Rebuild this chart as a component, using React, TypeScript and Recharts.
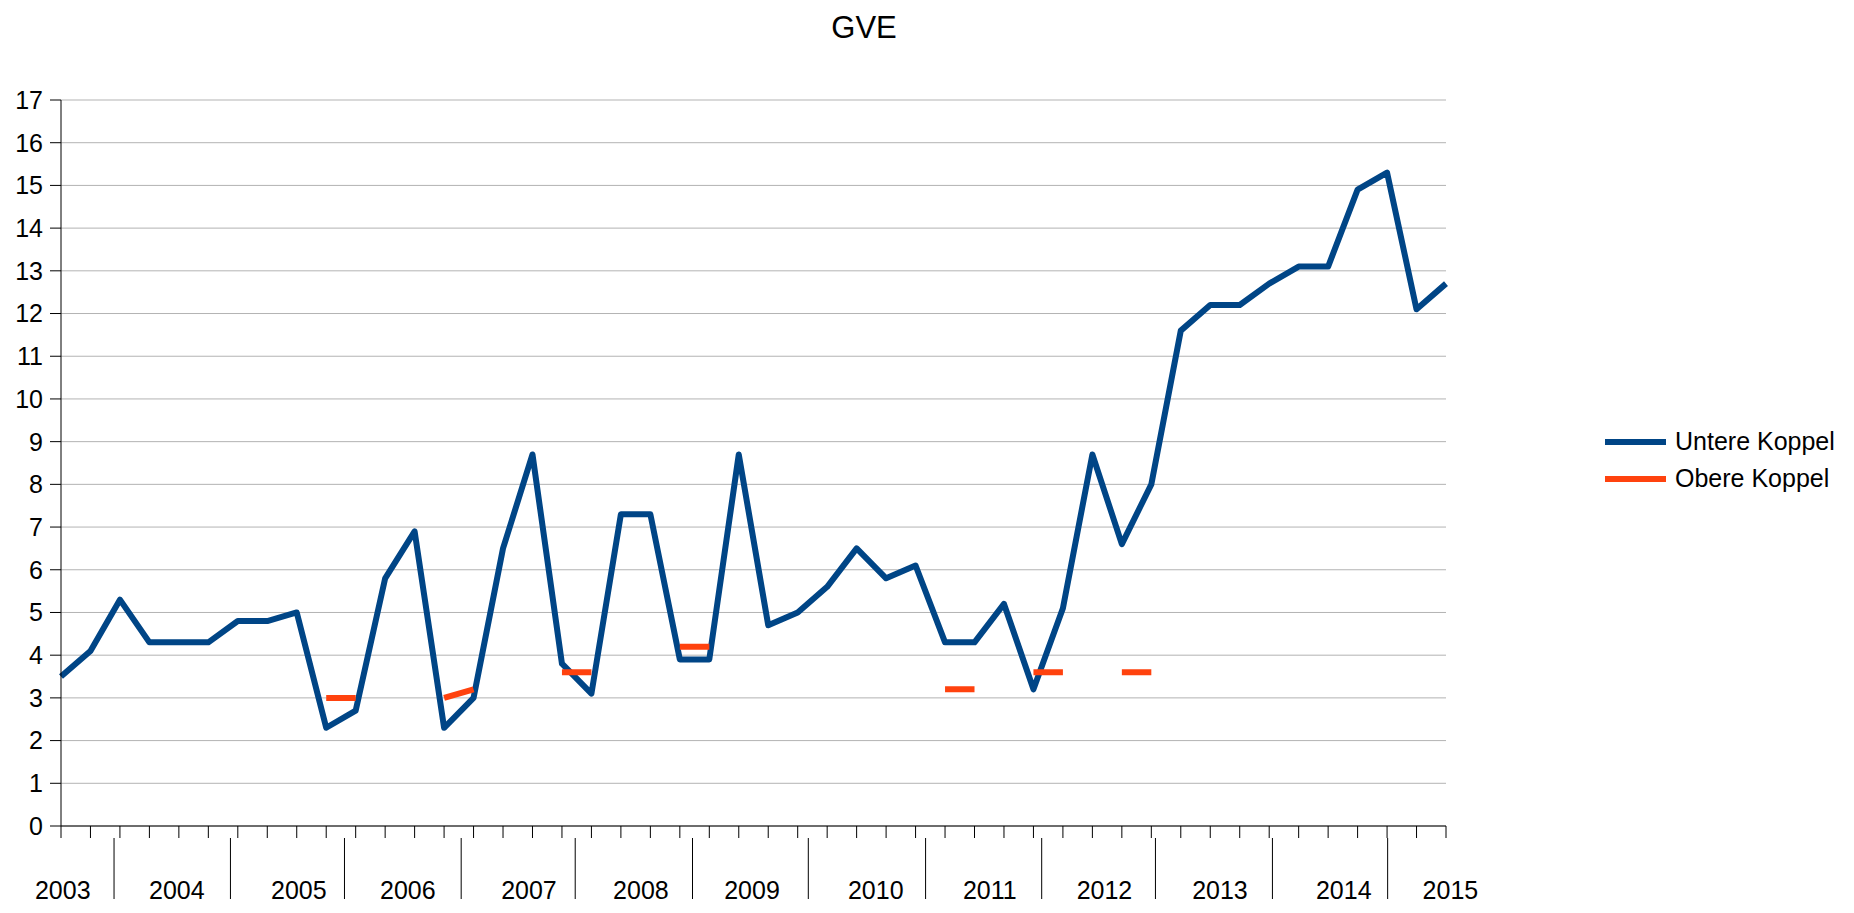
import { LineChart, Line, XAxis, YAxis, CartesianGrid, Legend } from 'recharts';

// quarterly readings, 2003 Q3 .. 2015 Q2
const QUARTERS = [
  '2003 Q3', '2003 Q4',
  '2004 Q1', '2004 Q2', '2004 Q3', '2004 Q4',
  '2005 Q1', '2005 Q2', '2005 Q3', '2005 Q4',
  '2006 Q1', '2006 Q2', '2006 Q3', '2006 Q4',
  '2007 Q1', '2007 Q2', '2007 Q3', '2007 Q4',
  '2008 Q1', '2008 Q2', '2008 Q3', '2008 Q4',
  '2009 Q1', '2009 Q2', '2009 Q3', '2009 Q4',
  '2010 Q1', '2010 Q2', '2010 Q3', '2010 Q4',
  '2011 Q1', '2011 Q2', '2011 Q3', '2011 Q4',
  '2012 Q1', '2012 Q2', '2012 Q3', '2012 Q4',
  '2013 Q1', '2013 Q2', '2013 Q3', '2013 Q4',
  '2014 Q1', '2014 Q2', '2014 Q3', '2014 Q4',
  '2015 Q1', '2015 Q2',
];

const UNTERE = [
  3.5, 4.1, 5.3, 4.3, 4.3, 4.3, 4.8, 4.8, 5.0, 2.3, 2.7, 5.8,
  6.9, 2.3, 3.0, 6.5, 8.7, 3.8, 3.1, 7.3, 7.3, 3.9, 3.9, 8.7,
  4.7, 5.0, 5.6, 6.5, 5.8, 6.1, 4.3, 4.3, 5.2, 3.2, 5.1, 8.7,
  6.6, 8.0, 11.6, 12.2, 12.2, 12.7, 13.1, 13.1, 14.9, 15.3, 12.1, 12.7,
];

const OBERE = [
  null, null, null, null, null, null, null, null, null, 3.0, 3.0, null,
  null, 3.0, 3.2, null, null, 3.6, 3.6, null, null, 4.2, 4.2, null,
  null, null, null, null, null, null, 3.2, 3.2, null, 3.6, 3.6, null,
  3.6, 3.6, null, null, null, null, null, null, null, null, null, null,
];

const SERIES_NAMES = ['Untere Koppel', 'Obere Koppel'];

const Y_TICKS = [0, 1, 2, 3, 4, 5, 6, 7, 8, 9, 10, 11, 12, 13, 14, 15, 16, 17];

// year row under the axis (positions in quarter-index units)
const YEARS = ['2003', '2004', '2005', '2006', '2007', '2008', '2009', '2010', '2011', '2012', '2013', '2014', '2015'];
const YEAR_LABEL_AT = [0.06, 3.93, 8.07, 11.77, 15.88, 19.68, 23.45, 27.65, 31.52, 35.41, 39.33, 43.53, 47.15];
const YEAR_DIVIDERS = [1.8, 5.75, 9.62, 13.58, 17.45, 21.43, 25.36, 29.34, 33.28, 37.14, 41.11, 45.02];

const FONT = '"Liberation Sans", Arial, sans-serif';

const data = QUARTERS.map((q, i) => ({ i, q, untere: UNTERE[i], obere: OBERE[i] }));
const POINT_TICKS = QUARTERS.map((_, i) => i);
const X_TICKS = Array.from(new Set([...POINT_TICKS, ...YEAR_DIVIDERS, ...YEAR_LABEL_AT])).sort((a, b) => a - b);

function XTick({ x, y, payload }: any) {
  const v = payload.value;
  const li = YEAR_LABEL_AT.indexOf(v);
  return (
    <g>
      {POINT_TICKS.includes(v) && <line x1={x} x2={x} y1={y} y2={y + 12} stroke="#000" />}
      {YEAR_DIVIDERS.includes(v) && <line x1={x} x2={x} y1={y + 12} y2={y + 73} stroke="#000" />}
      {li >= 0 && (
        <text x={x} y={y + 73} textAnchor="middle" fontSize={25} fontFamily={FONT} fill="#000">
          {YEARS[li]}
        </text>
      )}
    </g>
  );
}

function LegendBox({ payload }: any) {
  const items = [...(payload || [])].sort(
    (a: any, b: any) => SERIES_NAMES.indexOf(a.value) - SERIES_NAMES.indexOf(b.value)
  );
  return (
    <div style={{ fontFamily: FONT, fontSize: 25, color: '#000' }}>
      {items.map((p: any) => (
        <div key={p.value} style={{ display: 'flex', alignItems: 'center', height: 37 }}>
          <svg width={61} height={6} style={{ display: 'block' }}>
            <rect width={61} height={6} fill={p.color} />
          </svg>
          <span style={{ marginLeft: 9, lineHeight: '37px', whiteSpace: 'nowrap' }}>{p.value}</span>
        </div>
      ))}
    </div>
  );
}

export default function App() {
  return (
    <div style={{ position: 'relative', width: 1838, height: 897 }}>
      <div
        style={{
          position: 'absolute', left: 656, top: 4, width: 400, textAlign: 'center',
          fontFamily: FONT, fontSize: 31, lineHeight: '31px', color: '#000',
        }}
      >
        GVE
      </div>
      <LineChart width={1838} height={897} data={data} margin={{ top: 92, right: 400, bottom: 0, left: 0 }}>
        <CartesianGrid vertical={false} stroke="#b3b3b3" />
        <XAxis
          dataKey="i"
          type="number"
          domain={[0, 47]}
          ticks={X_TICKS}
          interval={0}
          height={79}
          tickSize={0}
          tickMargin={0}
          tickLine={false}
          axisLine={{ stroke: '#000' }}
          tick={(p: any) => <XTick {...p} />}
        />
        <YAxis
          type="number"
          domain={[0, 17]}
          ticks={Y_TICKS}
          interval={0}
          width={53}
          tickSize={11}
          tickMargin={7}
          axisLine={{ stroke: '#000' }}
          tickLine={{ stroke: '#000' }}
          tick={{ fill: '#000', fontSize: 25, fontFamily: FONT }}
        />
        <Legend
          layout="vertical"
          align="center"
          verticalAlign="middle"
          content={(p: any) => <LegendBox {...p} />}
          wrapperStyle={{ left: 1597, top: 415, width: 'auto', height: 'auto' }}
        />
        <Line
          dataKey="untere"
          name={SERIES_NAMES[0]}
          stroke="#004586"
          strokeWidth={6}
          strokeLinejoin="round"
          dot={false}
          activeDot={false}
          isAnimationActive={false}
        />
        <Line
          dataKey="obere"
          name={SERIES_NAMES[1]}
          stroke="#ff420e"
          strokeWidth={6}
          dot={false}
          activeDot={false}
          isAnimationActive={false}
        />
      </LineChart>
    </div>
  );
}
